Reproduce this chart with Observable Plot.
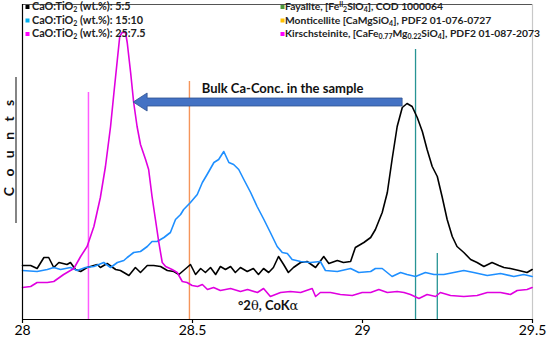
<!DOCTYPE html>
<html><head><meta charset="utf-8">
<script src="https://cdn.jsdelivr.net/npm/d3@7"></script>
<script src="https://cdn.jsdelivr.net/npm/@observablehq/plot@0.6"></script>
<style>body{margin:0;background:#fff}#chart{width:550px;height:343px}</style>
</head><body><div id="chart"></div>
<script>
// ---- data (x in °2θ CoKα, y in arbitrary counts) ----
const series55 = [[28.000,54],[28.024,54],[28.043,51],[28.063,62],[28.077,62],[28.092,52],[28.107,57],[28.131,55],[28.141,57],[28.156,50],[28.171,48],[28.190,52],[28.220,55],[28.229,52],[28.249,56],[28.274,50],[28.288,49],[28.313,44],[28.332,52],[28.347,47],[28.367,54],[28.386,54],[28.406,53],[28.426,49],[28.445,48],[28.460,45],[28.484,52],[28.494,55],[28.509,45],[28.524,51],[28.538,47],[28.553,52],[28.568,45],[28.582,53],[28.597,50],[28.612,53],[28.626,47],[28.641,52],[28.661,48],[28.679,51],[28.694,45],[28.709,51],[28.724,47],[28.738,52],[28.753,63],[28.768,55],[28.782,47],[28.797,52],[28.818,57],[28.837,58],[28.862,52],[28.886,63],[28.901,56],[28.926,59],[28.944,57],[28.965,58],[28.979,72],[29.004,77],[29.024,82],[29.038,90],[29.058,107],[29.073,127],[29.087,160],[29.102,193],[29.117,212],[29.131,216],[29.146,213],[29.161,202],[29.176,188],[29.190,170],[29.205,153],[29.220,143],[29.234,123],[29.249,100],[29.264,83],[29.278,73],[29.298,67],[29.318,60],[29.337,57],[29.357,53],[29.381,57],[29.401,54],[29.416,52],[29.435,51],[29.460,49],[29.484,47],[29.499,50]];
const series1510 = [[28.000,49],[28.043,48],[28.073,50],[28.092,52],[28.112,50],[28.141,52],[28.161,49],[28.185,52],[28.210,53],[28.239,57],[28.259,52],[28.279,57],[28.298,59],[28.308,62],[28.327,67],[28.347,68],[28.367,73],[28.381,78],[28.396,78],[28.416,82],[28.435,87],[28.450,100],[28.465,105],[28.474,110],[28.494,117],[28.514,125],[28.529,137],[28.543,145],[28.563,157],[28.577,160],[28.592,168],[28.607,157],[28.621,155],[28.636,150],[28.651,140],[28.671,127],[28.690,113],[28.710,100],[28.729,87],[28.749,73],[28.764,67],[28.779,66],[28.793,60],[28.818,58],[28.847,57],[28.876,58],[28.891,49],[28.926,48],[28.965,51],[28.989,47],[29.024,48],[29.038,51],[29.058,51],[29.087,43],[29.112,47],[29.131,45],[29.156,43],[29.185,47],[29.210,45],[29.239,45],[29.298,49],[29.327,47],[29.367,44],[29.406,46],[29.445,43],[29.474,45],[29.499,43]];
const series2575 = [[28.000,32],[28.024,33],[28.043,37],[28.073,37],[28.092,38],[28.121,45],[28.151,51],[28.171,63],[28.190,73],[28.210,93],[28.229,122],[28.244,153],[28.259,193],[28.269,227],[28.279,260],[28.286,283],[28.293,287],[28.303,287],[28.308,277],[28.318,247],[28.327,217],[28.337,193],[28.347,175],[28.362,160],[28.371,150],[28.381,123],[28.391,100],[28.401,77],[28.411,57],[28.421,53],[28.440,50],[28.455,47],[28.470,38],[28.484,37],[28.499,34],[28.515,33],[28.529,35],[28.544,30],[28.562,32],[28.582,29],[28.612,31],[28.641,28],[28.662,30],[28.691,27],[28.709,31],[28.729,23],[28.759,27],[28.788,28],[28.818,27],[28.852,31],[28.862,23],[28.876,27],[28.906,27],[28.935,25],[28.970,24],[28.999,27],[29.024,27],[29.048,30],[29.073,27],[29.102,28],[29.122,27],[29.141,25],[29.166,21],[29.190,25],[29.215,23],[29.229,27],[29.259,24],[29.298,23],[29.337,24],[29.367,27],[29.406,27],[29.435,25],[29.455,29],[29.484,30],[29.499,32]];
const seriesNames = ["5:5","15:10","25:7.5"];
const seriesColors = ["#000000","#1e8fff","#e000e0"];
// reference patterns (stick positions and relative heights)
const refSticks = [
  {phase:"Kirschsteinite", x:28.194, h:227, color:"#ff5cff", w:1.5},
  {phase:"Monticellite", x:28.491, h:238, color:"#f5955a", w:1.4},
  {phase:"Fayalite", x:29.156, h:270, color:"#279494", w:1.3},
  {phase:"Fayalite", x:29.220, h:66, color:"#279494", w:1.3}
];
const xTicks = [28, 28.5, 29, 29.5];
const tickLabels = ["28","28.5","29","29.5"];
const legendLeft = ["CaO:TiO_{2} (wt.%): 5:5","CaO:TiO_{2} (wt.%): 15:10","CaO:TiO_{2} (wt.%): 25:7.5"];
const legendLeftColors = ["#000000","#00b0f0","#ff00ff"];
const legendRight = ["Fayalite, [Fe^{II}_{2}SiO_{4}], COD 1000064","Monticellite [CaMgSiO_{4}], PDF2 01-076-0727","Kirschsteinite, [CaFe_{0.77}Mg_{0.22}SiO_{4}], PDF2 01-087-2073"];
const legendRightColors = ["#4e9a3a","#ffc000","#ff00ff"];
// annotation: arrow (data units)
const arrowLabel = "Bulk Ca-Conc. in the sample";
const arrowTipX = 28.327, arrowHeadBaseX = 28.368, arrowEndX = 29.118, arrowY = 217;
const arrowLabelX = 28.765, arrowLabelY = 231;
const xLabelX = 28.724, xLabelY = 14;

const rows = [];
[series55, series1510, series2575].forEach((s, i) => s.forEach(([x, y]) => rows.push({x, y, series: seriesNames[i]})));

const plot = Plot.plot({
  width: 550, height: 343,
  marginLeft: 22, marginRight: 18, marginTop: 4, marginBottom: 24,
  style: {fontFamily: "Lato, 'Open Sans', sans-serif", background: "#fff", overflow: "visible"},
  x: {domain: [28, 29.5]},
  y: {domain: [0, 315], axis: null},
  color: {domain: seriesNames, range: seriesColors},
  marks: [
    Plot.ruleY([315], {stroke: "#555", strokeWidth: 1}),
    Plot.ruleX([29.5], {stroke: "#c8c8c8", strokeWidth: 1.2}),
    Plot.ruleX(refSticks, {x: "x", y1: 0, y2: "h", stroke: "color", strokeWidth: "w"}),
    Plot.line(rows, {x: "x", y: "y", z: "series", stroke: "series", strokeWidth: 1.6, strokeLinejoin: "round"}),
    Plot.ruleX([28], {stroke: "#000", strokeWidth: 1.2}),
    Plot.ruleY([0], {stroke: "#000", strokeWidth: 1.2}),
    Plot.axisX({ticks: xTicks, tickFormat: d => tickLabels[xTicks.indexOf(d)], tickSize: 4, tickPadding: 2, fontSize: 14, label: null, stroke: "#000", strokeWidth: 1.2, fill: "#000"}),
    Plot.text([arrowLabel], {x: arrowLabelX, y: arrowLabelY, text: d => d, fontSize: 13, fontWeight: "bold", fill: "#111"}),
  ]
});
document.getElementById("chart").appendChild(plot);

const svg = d3.select(plot);
const sx = plot.scale("x"), sy = plot.scale("y");
function rich(s) {
  return s.replace(/_\{([^}]*)\}/g, '<tspan baseline-shift="-1.8" font-size="7">$1</tspan>')
          .replace(/\^\{([^}]*)\}/g, '<tspan baseline-shift="3" font-size="6.5">$1</tspan>');
}
// arrow
const tx = sx.apply(arrowTipX), bx = sx.apply(arrowHeadBaseX), ex = sx.apply(arrowEndX), ay = sy.apply(arrowY);
svg.append("path")
  .attr("d", `M${tx},${ay} L${bx},${ay-9} L${bx},${ay-4} L${ex},${ay-4} L${ex},${ay+4} L${bx},${ay+4} L${bx},${ay+9} Z`)
  .attr("fill", "#4472c4").attr("stroke", "#2f528f").attr("stroke-width", 0.8);
// x label
svg.append("text").attr("x", sx.apply(xLabelX)).attr("y", sy.apply(xLabelY)).attr("dy", "0.35em")
  .attr("text-anchor", "middle").attr("font-size", 13).attr("font-weight", "bold").attr("fill", "#111")
  .html('°2<tspan font-family="DejaVu Serif" font-weight="normal">θ</tspan>, CoK<tspan font-family="DejaVu Serif" font-weight="normal">α</tspan>');
// y label (spaced letters)
svg.append("text").attr("transform", "translate(9,148) rotate(-90)").attr("dy", "0.35em")
  .attr("text-anchor", "middle").attr("font-size", 14).attr("font-weight", "bold").attr("fill", "#111")
  .attr("word-spacing", 7).text("C o u n t s");
svg.append("line").attr("x1", 16).attr("x2", 16).attr("y1", 77).attr("y2", 223).attr("stroke", "#333").attr("stroke-width", 1.2);
// legends
const baselines = [10, 23.5, 37];
legendLeft.forEach((t, i) => {
  svg.append("rect").attr("x", 25.5).attr("y", baselines[i]-5).attr("width", 4).attr("height", 4).attr("fill", legendLeftColors[i]);
  svg.append("text").attr("x", 32).attr("y", baselines[i]).attr("text-anchor", "start").attr("font-size", 10.8).attr("font-weight", "bold").attr("fill", "#222").html(rich(t));
});
legendRight.forEach((t, i) => {
  svg.append("rect").attr("x", 280.5).attr("y", baselines[i]-5).attr("width", 4).attr("height", 4).attr("fill", legendRightColors[i]);
  svg.append("text").attr("x", 285).attr("y", baselines[i]).attr("text-anchor", "start").attr("font-size", 10.3).attr("font-weight", "bold").attr("fill", "#222").html(rich(t));
});
</script></body></html>
